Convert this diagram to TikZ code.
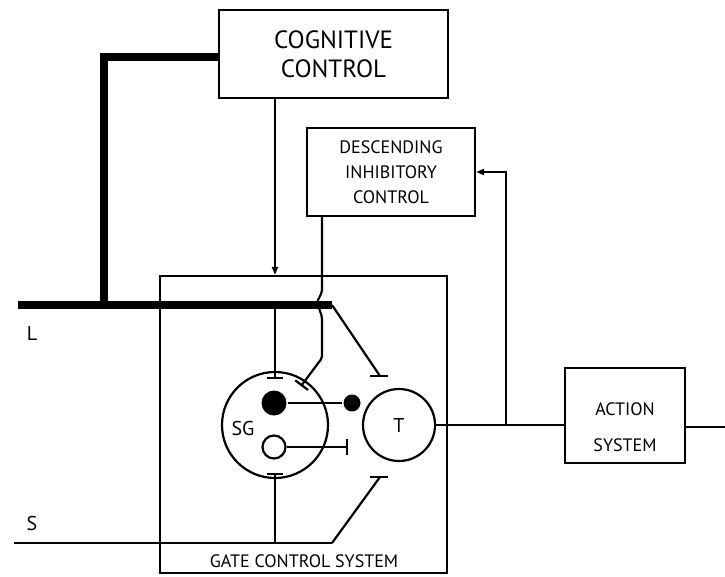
\documentclass[tikz,border=0pt]{standalone}
\usepackage{fontspec}
\setmainfont{PT Sans}
\usetikzlibrary{arrows.meta,positioning,calc}

\begin{document}
\begin{tikzpicture}[
  x=1pt, y=-1pt,
  line width=2.2pt,
  >={Triangle[length=8pt,width=6pt]},
  box/.style={draw, rectangle, align=center, inner sep=0pt},
  ring/.style={draw, circle, inner sep=0pt},
  dot/.style={circle, fill=black, inner sep=0pt},
  inh/.style={-{Bar[width=16pt]}},
  fibre/.style={line width=7.5pt},
  lbl/.style={font=\fontsize{20}{24}\selectfont, inner sep=0pt}
]
\useasboundingbox (0,0) rectangle (725,576);

% Boxes of the model
\node[box, minimum width=229pt, minimum height=88pt,
      font=\fontsize{25}{29}\selectfont] (cog) at (333.5,54) {COGNITIVE\\CONTROL};
\node[box, minimum width=168pt, minimum height=88pt,
      font=\fontsize{18}{25}\selectfont] (desc) at (391,172) {DESCENDING\\INHIBITORY\\CONTROL};
\node[box, minimum width=287pt, minimum height=297pt] (gate) at (303.5,424.5) {};
\node[box, minimum width=120pt, minimum height=95pt,
      font=\fontsize{18}{36}\selectfont] (act) at (625,415.5) {\rule{0pt}{36pt}ACTION\\SYSTEM};

% Gate cells
\node[ring, minimum size=106pt] (sg) at (275,425) {};
\node[lbl] (sglbl) at (243,428) {SG};
\node[dot, minimum size=25pt] (bdot) at (274,403) {};
\node[ring, minimum size=23pt] (wdot) at (274,447) {};
\node[dot, minimum size=17pt] (sdot) at (352,403) {};
\node[ring, minimum size=72pt, font=\fontsize{20}{24}\selectfont] (t) at (399,425) {T};

\node[lbl] (llbl) at (32,333) {L};
\node[lbl] (slbl) at (32,523) {S};
\node[anchor=base, inner sep=0pt, font=\fontsize{18}{20}\selectfont] (gatelbl) at (304,567) {GATE CONTROL SYSTEM};

\coordinate (lstart) at (18,305);
\coordinate (lend)   at (332,305);
\coordinate (ljoin)  at (104,305);
\coordinate (sstart) at (14,543);
\coordinate (send)   at (332,543);
\coordinate (ttop)   at (380,376);
\coordinate (tbot)   at (380,477);
\coordinate (wbar)   at (348,447);
\coordinate (hop)    at (322,292);
\coordinate (branch) at (506,425);
\coordinate (out)    at (725,427);

% Large (L) and small (S) fibres
\draw[fibre] (lstart) -- (lend);
\draw[fibre] ([yshift=-3pt]cog.west) -| (ljoin);
\draw (sstart) -- (send);

\draw[->] (cog.south -| sg) -- (sg |- gate.north);
\draw[inh, shorten >=-8pt] (sg |- lstart) -- (sg.north);
\draw[inh, shorten >=-6pt] (sg |- sstart) -- (sg.south);

% Fibres onto the transmission cell
\draw (lend) -- (ttop);
\draw ([xshift=-10pt]ttop) -- ([xshift=8pt]ttop);
\draw (send) -- (tbot);
\draw ([xshift=-10pt]tbot) -- ([xshift=8pt]tbot);

\draw (bdot) -- (sdot);
\draw[inh] (wdot.east) -- (wbar);

% Descending line hops over the L fibre
\draw[inh, rounded corners=2pt]
  (desc.south -| hop) -- (hop) -- (317,302) -- (322,317) -- (322,358) -- (301,386);

\draw (t.east) -- (t.east -| act.west);
\draw[->] (branch) |- (desc.east);
\draw (act.east |- out) -- (out);

\end{tikzpicture}
\end{document}
